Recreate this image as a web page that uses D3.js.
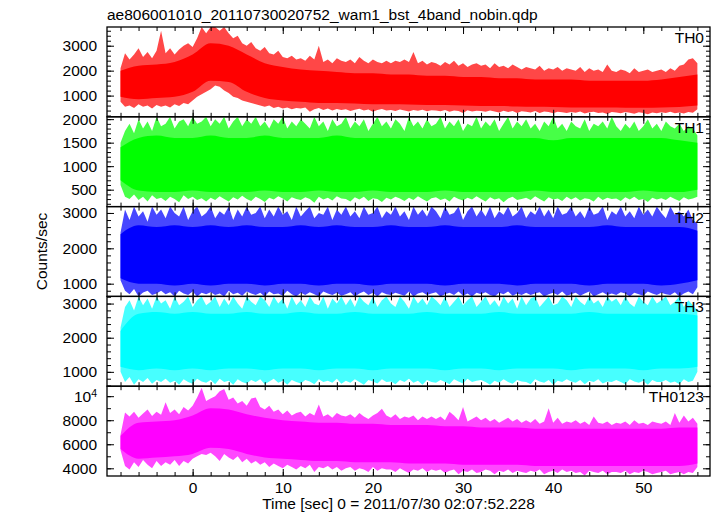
<!DOCTYPE html>
<html><head><meta charset="utf-8">
<script src="https://cdn.jsdelivr.net/npm/d3@7"></script>
<style>
body{margin:0;background:#fff;}
svg{display:block;font-family:"Liberation Sans",Arial,Helvetica,sans-serif;}
</style></head><body>
<svg id="c" width="717" height="516"></svg>
<script>
// ---------------- data ----------------
const title = "ae806001010_20110730020752_wam1_bst_4band_nobin.qdp";
const xLabel = "Time [sec] 0 = 2011/07/30 02:07:52.228";
const yLabel = "Counts/sec";
const panelNames = ["TH0", "TH1", "TH2", "TH3", "TH0123"];
const panelColors = ["#ff0000", "#00ff00", "#0000ff", "#00ffff", "#ff00ff"];
const yDomains = [[150, 3750], [140, 2050], [640, 3180], [580, 3210], [3360, 10830]];
const yMajorTicks = [[1000, 2000, 3000], [500, 1000, 1500, 2000], [1000, 2000, 3000], [1000, 2000, 3000], [4000, 6000, 8000, 10000]];
const yMinorTicks = [
  [200,400,600,800,1000,1200,1400,1600,1800,2000,2200,2400,2600,2800,3000,3200,3400,3600],
  [200,300,400,500,600,700,800,900,1000,1100,1200,1300,1400,1500,1600,1700,1800,1900,2000],
  [800,1000,1200,1400,1600,1800,2000,2200,2400,2600,2800,3000],
  [600,800,1000,1200,1400,1600,1800,2000,2200,2400,2600,2800,3000,3200],
  [4000,5000,6000,7000,8000,9000,10000]
];
const xMajorTicks = [0, 10, 20, 30, 40, 50];
const xMinorTicks = [-8,-6,-4,-2,0,2,4,6,8,10,12,14,16,18,20,22,24,26,28,30,32,34,36,38,40,42,44,46,48,50,52,54,56];
const xTickLabels = ["0", "10", "20", "30", "40", "50"];

// envelope sampling: 0.5 s bins from -8 s; dense core band: 2 s bins from -8 s
const envStart = -8, envStep = 0.5;
const coreStart = -8, coreStep = 2;

// TH0 (red)
const th0Hi = [
 2100,2700,2450,2650,2900,2550,2750,2500,2800,3600,
 2700,2900,2650,2850,3000,3100,2950,3300,3750,3500,
 3750,3750,3600,3750,3500,3300,3400,3100,3000,3150,
 2900,2800,2950,2700,2650,2800,2550,2500,2600,2450,
 2500,2400,2600,2450,3000,2350,2450,2300,2500,2400,
 2350,2450,2300,2550,2400,2300,2450,2350,2300,2400,
 2300,2400,2350,2450,2350,2750,2300,2400,2250,2350,
 2300,2200,2350,2250,2400,2200,2300,2150,2250,2300,
 2200,2250,2100,2300,2150,2200,2100,2250,2150,2050,
 2150,2100,2050,2200,2000,2100,2050,2150,2000,2100,
 2050,2000,2150,1950,2100,2000,2050,1950,2250,2000,
 1950,2050,2000,1900,2100,1950,2000,2050,1950,2000,
 2050,1950,2100,2000,2200,2250,2450,2500,2300];
const th0Lo = [
 750,550,600,500,650,550,600,480,620,550,
 600,520,650,580,700,650,800,950,1050,1150,
 1250,1400,1350,1200,1100,950,900,800,750,700,
 650,600,550,600,500,550,480,520,450,500,
 480,520,350,450,500,420,480,400,460,420,
 450,380,430,470,400,440,350,420,460,400,
 420,380,440,400,360,420,390,430,370,410,
 400,370,420,350,400,380,300,410,360,390,
 380,350,400,360,320,390,340,380,300,370,
 350,320,380,300,360,340,290,350,330,300,
 340,310,360,280,330,350,300,320,260,340,
 320,290,340,310,270,330,300,250,320,290,
 330,300,350,290,320,280,340,310,450];
const th0CoreHi = [2000,2200,2250,2350,2650,3100,3000,2650,2300,2150,2050,2000,1950,1900,1900,1850,1850,1800,1800,1750,1750,1700,1700,1650,1650,1650,1600,1600,1600,1600,1650,1750,1850];
const th0CoreLo = [950,850,900,950,1150,1600,1550,1150,900,800,750,700,700,680,650,650,640,620,620,600,580,580,560,550,540,520,520,520,510,510,520,540,600];

// TH1 (green)
const th1Hi = [
 1500,1750,1900,1700,2000,1800,1950,1750,2050,1850,
 1900,2050,1800,1950,2000,1850,2050,1900,1950,2050,
 1850,2000,1900,2050,1800,1950,2050,1850,2000,1900,
 2050,1850,1950,1800,2000,1900,2050,1800,1950,1850,
 2000,1900,1800,2050,1850,1950,1750,2000,1850,1900,
 2050,1800,1950,1850,2000,1750,1900,2050,1850,1950,
 1800,2000,1900,1750,2050,1850,1950,1800,2000,1850,
 1900,2050,1800,1950,1850,2000,1750,1900,1850,2050,
 1800,1950,1850,2000,1750,1900,2050,1800,1950,1850,
 2000,1800,1900,1750,1950,1850,2050,1800,1900,1750,
 1950,1850,1800,2000,1750,1900,1850,1950,1800,2050,
 1850,1750,1900,1800,1950,1750,1850,2000,1800,1900,
 1750,1950,1850,1800,1900,1750,1850,1800,1650];
const th1Lo = [
 600,350,300,400,280,350,250,380,300,330,
 260,350,300,230,380,300,350,280,320,250,
 330,280,360,300,250,340,290,370,300,260,
 350,300,240,330,290,360,310,250,340,300,
 280,340,300,220,350,290,330,270,360,310,
 300,250,340,290,350,260,320,300,240,330,
 290,350,310,260,330,280,360,300,250,320,
 340,280,310,250,350,300,270,330,290,360,
 300,250,340,290,320,230,310,350,280,300,
 330,280,360,300,250,340,290,310,260,350,
 290,340,270,320,300,250,350,280,330,300,
 310,260,340,290,350,280,300,240,330,290,
 320,280,350,300,260,340,290,310,350];
const th1CoreHi = [1400,1600,1650,1600,1600,1650,1600,1600,1650,1600,1600,1600,1650,1600,1600,1600,1600,1600,1600,1600,1600,1600,1600,1600,1550,1600,1600,1600,1600,1600,1600,1550,1500];
const th1CoreLo = [700,480,450,450,480,450,450,450,480,450,450,480,450,450,480,450,450,450,480,450,450,450,450,480,450,450,450,450,450,480,450,450,500];

// TH2 (blue)
const th2Hi = [
 2450,3100,2800,3180,2900,3050,2750,3180,2950,3100,
 2850,3180,3000,2900,3180,2800,3050,3180,2900,3000,
 3180,2850,3050,2950,3180,2800,3100,2900,3180,2950,
 3000,3180,2850,3100,2900,3180,2950,3050,2800,3180,
 2900,3050,3180,2850,3000,2950,3180,2800,3100,2950,
 3180,2900,3050,2850,3180,2950,3000,3180,2850,3050,
 2950,3180,2900,3050,2800,3180,2950,3100,2900,3180,
 3050,2850,3180,2950,3000,3180,2800,3050,3180,2900,
 3100,2900,3180,2850,3050,2950,3180,2900,3000,3180,
 2850,3050,2950,3180,2900,3100,2850,3180,2950,3000,
 3180,2900,3050,2850,3180,2950,3000,3180,2800,3050,
 2950,3180,2900,3050,2850,3180,2950,3100,2900,3180,
 3000,2850,3180,2950,3050,2900,3100,2800,2700];
const th2Lo = [
 1100,800,700,850,640,750,800,680,720,800,
 700,760,640,800,720,680,780,640,740,700,
 760,680,720,640,800,700,740,660,780,720,
 680,740,640,780,700,720,660,800,700,640,
 740,680,760,700,640,780,720,680,740,660,
 700,760,640,720,780,680,740,640,760,700,
 680,740,700,660,780,640,720,760,680,720,
 760,640,700,740,680,780,660,720,640,740,
 700,760,680,640,740,700,780,660,720,680,
 740,680,720,760,640,700,740,680,780,660,
 700,740,660,720,780,640,700,760,680,720,
 680,760,720,640,740,700,660,780,720,680,
 740,700,680,760,640,720,780,700,900];
const th2CoreHi = [2400,2650,2600,2650,2600,2650,2600,2650,2600,2600,2650,2600,2650,2600,2600,2650,2600,2600,2650,2600,2600,2600,2650,2600,2600,2600,2600,2650,2600,2600,2600,2600,2500];
const th2CoreLo = [1150,1000,1000,950,1000,950,1000,1000,950,1000,1000,950,1000,1000,950,1000,1000,1000,950,1000,1000,1000,950,1000,1000,1000,950,1000,1000,1000,950,1000,1100];

// TH3 (cyan)
const th3Hi = [
 2300,2900,3100,2800,3210,2950,3150,2850,3210,3000,
 3100,2850,3210,2950,3050,3210,2900,3100,3210,2950,
 3050,3210,2900,3150,2950,3210,3000,2850,3210,3050,
 2950,3210,3100,2900,3210,3000,3150,2850,3210,2950,
 3100,2900,3210,3000,2950,3210,2850,3150,3000,3210,
 2950,3150,2900,3210,3050,2950,3210,2900,3100,3210,
 3000,2900,3210,3050,2850,3210,3000,3150,2950,3210,
 3100,2950,3210,2900,3050,3210,2950,3100,3210,2900,
 3050,3210,2950,3100,2900,3210,3000,3150,2850,3210,
 2950,3150,3210,2900,3050,3210,2950,3000,3210,3100,
 2900,3210,3050,2950,3210,3000,3100,2900,3210,3050,
 3150,2950,3210,3000,2900,3210,3050,2950,3210,3000,
 3100,3210,2950,3050,3210,2900,3100,2950,2800];
const th3Lo = [
 1000,700,850,620,780,700,820,650,760,700,
 800,680,740,620,780,700,650,800,720,680,
 760,640,800,700,740,620,780,700,660,760,
 700,780,640,720,800,680,740,620,760,700,
 660,760,720,640,780,700,740,680,800,650,
 740,680,780,700,620,760,720,660,780,700,
 720,640,760,700,800,680,740,620,760,700,
 680,760,700,640,780,720,660,800,700,740,
 760,700,620,740,680,780,700,650,760,720,
 700,640,780,720,680,760,620,740,700,780,
 720,680,760,640,740,700,780,660,720,700,
 760,700,640,780,720,680,740,620,760,700,
 700,760,680,720,640,780,700,740,1000];
const th3CoreHi = [2200,2700,2750,2700,2750,2700,2700,2750,2700,2700,2750,2700,2700,2750,2700,2700,2700,2750,2700,2700,2700,2750,2700,2700,2700,2700,2750,2700,2700,2700,2700,2700,2650];
const th3CoreLo = [1150,1050,1100,1050,1100,1050,1100,1100,1050,1100,1100,1050,1100,1100,1050,1100,1100,1100,1050,1100,1100,1050,1100,1100,1100,1050,1100,1100,1100,1050,1100,1100,1150];

// TH0123 (magenta)
const th0123Hi = [
 6800,8650,8300,8700,8200,8550,8900,8350,8700,8450,
 9500,8600,8900,8500,9100,8800,9200,9900,10700,9600,
 9800,10000,10400,10600,9700,9900,9400,9600,9200,9800,
 9900,9100,8900,9200,8700,8900,8500,8800,8400,8600,
 8700,8300,8600,8400,9300,8300,8500,8200,8600,8400,
 8300,8500,8200,8600,8300,8100,8400,8600,8950,8400,
 8200,8500,8100,8300,8200,8400,8000,8300,8100,8300,
 8100,8300,8000,8700,8400,8000,9100,7900,8100,8300,
 8000,8200,7900,8100,7800,8000,8200,7900,8100,7800,
 8000,7800,8100,7700,7900,9000,7800,8200,7700,7900,
 7800,8000,7700,7900,7600,8300,7800,7700,7900,7600,
 7800,7700,7900,7600,8000,7700,7800,7600,7900,7800,
 7700,7900,7600,8600,7800,8400,7900,8200,7700];
const th0123Lo = [
 5500,4200,3900,4500,4100,4700,4300,4000,4600,4200,
 4500,4300,4700,4200,4600,4400,4800,5000,5200,5100,
 5300,5000,4600,5200,4900,4700,5000,4500,4800,4400,
 4600,4300,4500,4100,4400,4200,4000,4300,4100,3900,
 4200,4000,4300,3700,4100,4000,4200,3900,4100,3800,
 4000,4100,3800,4000,3900,3700,4100,3800,4000,3900,
 3900,3700,4000,3800,3600,3900,3800,4000,3700,3900,
 3800,3900,3600,3800,3900,3500,3800,3700,3900,3600,
 3700,3900,3800,3500,3800,3700,3900,3600,3800,3700,
 3600,3800,3700,3900,3500,3700,3800,3600,3900,3700,
 3800,3600,3700,3400,3800,3700,3600,3800,3500,3700,
 3700,3600,3800,3500,3700,3600,3800,3700,3500,3600,
 3700,3800,3500,3600,3700,3500,3700,3600,4100];
const th0123CoreHi = [6700,7800,7900,8000,8400,9000,8900,8500,8200,8000,7900,7800,7800,7700,7700,7600,7600,7600,7500,7500,7400,7400,7400,7300,7300,7300,7300,7300,7300,7300,7300,7400,7400];
const th0123CoreLo = [5600,4800,4900,5000,5200,5700,5600,5200,4900,4800,4700,4600,4600,4500,4500,4500,4400,4400,4400,4300,4300,4300,4300,4200,4200,4200,4200,4200,4200,4200,4200,4200,4400];

const seriesHi = [th0Hi, th1Hi, th2Hi, th3Hi, th0123Hi];
const seriesLo = [th0Lo, th1Lo, th2Lo, th3Lo, th0123Lo];
const seriesCoreHi = [th0CoreHi, th1CoreHi, th2CoreHi, th3CoreHi, th0123CoreHi];
const seriesCoreLo = [th0CoreLo, th1CoreLo, th2CoreLo, th3CoreLo, th0123CoreLo];

// ---------------- layout ----------------
const plotLeft = 107, plotRight = 710, plotTop = 27, plotBottom = 476;
const nP = panelNames.length;
const pH = (plotBottom - plotTop) / nP;
const majorLen = 7, minorLen = 4;
const fontSize = 15.5;

const svg = d3.select("#c");
const x = d3.scaleLinear().domain([-9.5, 57.4]).range([plotLeft, plotRight]);
const defs = svg.append("defs");

panelNames.forEach((name, i) => {
  const top = plotTop + i * pH, bottom = top + pH;
  const y = d3.scaleLinear().domain(yDomains[i]).range([bottom, top]);
  const g = svg.append("g");
  const clipId = "clip" + i;
  defs.append("clipPath").attr("id", clipId).append("rect")
    .attr("x", plotLeft).attr("y", top).attr("width", plotRight - plotLeft).attr("height", pH);

  const dg = g.append("g").attr("clip-path", `url(#${clipId})`);
  const hi = seriesHi[i], lo = seriesLo[i];
  const outer = d3.area()
    .x((d, j) => x(envStart + j * envStep))
    .y0((d, j) => y(lo[j]))
    .y1((d, j) => y(hi[j]));
  dg.append("path").datum(hi).attr("d", outer)
    .attr("fill", panelColors[i]).attr("fill-opacity", 0.72);
  const cHi = seriesCoreHi[i], cLo = seriesCoreLo[i];
  const core = d3.area()
    .x((d, j) => x(coreStart + j * coreStep))
    .y0((d, j) => y(cLo[j]))
    .y1((d, j) => y(cHi[j]))
    .curve(d3.curveMonotoneX);
  dg.append("path").datum(cHi).attr("d", core).attr("fill", panelColors[i]);

  const axB = (vals, len, lab) => d3.axisBottom(x).tickValues(vals).tickSize(-len).tickPadding(6)
      .tickFormat(lab ? ((d) => xTickLabels[xMajorTicks.indexOf(d)]) : "");
  const axT = (vals, len) => d3.axisTop(x).tickValues(vals).tickSize(-len).tickFormat("");
  const isLast = i === nP - 1;
  g.append("g").attr("transform", `translate(0,${bottom})`).call(axB(xMinorTicks, minorLen, false));
  g.append("g").attr("transform", `translate(0,${bottom})`).call(axB(xMajorTicks, majorLen, isLast));
  g.append("g").attr("transform", `translate(0,${top})`).call(axT(xMinorTicks, minorLen));
  g.append("g").attr("transform", `translate(0,${top})`).call(axT(xMajorTicks, majorLen));

  const yFmt = (d) => d === 10000 ? "" : String(d);
  g.append("g").attr("transform", `translate(${plotLeft},0)`)
    .call(d3.axisLeft(y).tickValues(yMinorTicks[i]).tickSize(-minorLen).tickFormat(""));
  const yl = g.append("g").attr("transform", `translate(${plotLeft},0)`)
    .call(d3.axisLeft(y).tickValues(yMajorTicks[i]).tickSize(-majorLen).tickPadding(10).tickFormat(yFmt));
  g.append("g").attr("transform", `translate(${plotRight},0)`)
    .call(d3.axisRight(y).tickValues(yMinorTicks[i]).tickSize(-minorLen).tickFormat(""));
  g.append("g").attr("transform", `translate(${plotRight},0)`)
    .call(d3.axisRight(y).tickValues(yMajorTicks[i]).tickSize(-majorLen).tickFormat(""));

  yl.selectAll(".tick").filter(d => d === 10000).select("text")
    .each(function() {
      const t = d3.select(this);
      t.append("tspan").text("10");
      t.append("tspan").attr("dy", "-0.45em").attr("font-size", fontSize * 0.68).text("4");
    });

  g.append("rect").attr("x", plotLeft).attr("y", top).attr("width", plotRight - plotLeft).attr("height", pH)
    .attr("fill", "none").attr("stroke", "#000").attr("stroke-width", 1.3);

  g.append("text").attr("x", plotRight - 6).attr("y", top + 16).attr("text-anchor", "end")
    .attr("font-size", fontSize).attr("fill", "#000").text(name);
});

svg.selectAll(".domain").remove();
svg.selectAll(".tick line").attr("stroke", "#000").attr("stroke-width", 1);
svg.selectAll(".tick text").attr("font-size", fontSize).attr("fill", "#000")
  .attr("font-family", '"Liberation Sans", Arial, Helvetica, sans-serif');

svg.append("text").attr("x", plotLeft).attr("y", 20).attr("font-size", fontSize).attr("fill", "#000").text(title);
svg.append("text").attr("x", (plotLeft + plotRight) / 2 - 10).attr("y", 509).attr("text-anchor", "middle")
  .attr("font-size", fontSize).attr("fill", "#000").text(xLabel);
svg.append("text").attr("transform", `translate(47,${(plotTop + plotBottom) / 2}) rotate(-90)`)
  .attr("text-anchor", "middle").attr("font-size", fontSize).attr("fill", "#000").text(yLabel);
</script>
</body></html>
